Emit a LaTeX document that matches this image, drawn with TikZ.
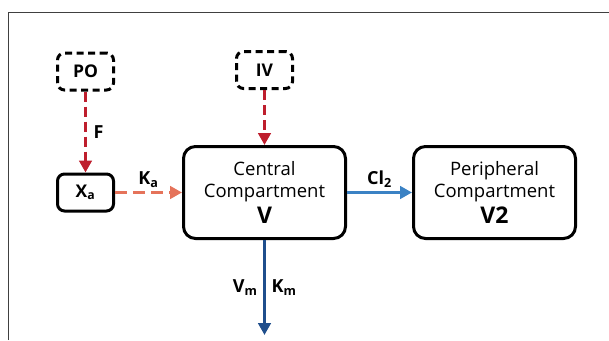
\documentclass[tikz,border=0pt]{standalone}
\usepackage{fontspec}
\setmainfont{Open Sans}
\usepackage{tikz}
\usetikzlibrary{positioning}
\usetikzlibrary{arrows.meta}
\definecolor{doseRed}{HTML}{BE1E2D}
\definecolor{absOrange}{HTML}{E5735A}
\definecolor{clBlue}{HTML}{3B82C4}
\definecolor{elimBlue}{HTML}{1F4E8C}
\tikzstyle{comp} = [rectangle, draw, line width=3pt, rounded corners=12pt,
                minimum width=162pt, minimum height=92pt, align=center,
                font=\fontsize{18.5}{22}\selectfont]
\tikzstyle{depot} = [rectangle, draw, line width=3pt, rounded corners=7pt,
                minimum width=56pt, minimum height=37pt,
                font=\bfseries\fontsize{17.5}{20}\selectfont]
\tikzstyle{dose} = [depot, dash pattern=on 7pt off 4.5pt]
\tikzstyle{line} = [draw, line width=3.6pt, -{Triangle[length=12pt,width=12.5pt]}]
\tikzstyle{rate} = [font=\bfseries\fontsize{18}{21}\selectfont]

\begin{document}
\begin{tikzpicture}[x=1pt, y=1pt]
                \useasboundingbox (0,0) rectangle (609,-340);
                \draw[line width=1pt, black!75] (8.5,-340) |- (609,-12.5);
                \node[comp](central) at (264.5,-192.5){Central\\Compartment\\[4pt]{\bfseries\fontsize{23}{27}\selectfont V}};
                \node[comp, right=65pt of central](periph){Peripheral\\Compartment\\[4pt]{\bfseries\fontsize{23}{27}\selectfont V2}};
                \node[dose, above=55pt of central](iv){IV};
                \node[depot, left=67pt of central](xa){X\textsubscript{a}};
                \node[dose, above=81pt of xa](po){PO};
                \coordinate[below=95pt of central](sink);
                \path[line, doseRed, dash pattern=on 10pt off 5pt] (po) -- node[rate, black, right=3pt]{F} (xa);
                \path[line, doseRed, dash pattern=on 10pt off 5pt] (iv) -- (central);
                \path[line, absOrange, dash pattern=on 12pt off 6pt] (xa) -- node[rate, black, above=0pt]{K\textsubscript{a}} (central);
                \path[line, clBlue] (central) -- node[rate, black, above=0pt]{Cl\textsubscript{2}} (periph);
                \path[line, elimBlue] (central) -- node[rate, black, left=2pt]{V\textsubscript{m}} node[rate, black, right=2pt]{K\textsubscript{m}} (sink);
            \end{tikzpicture}
\end{document}
